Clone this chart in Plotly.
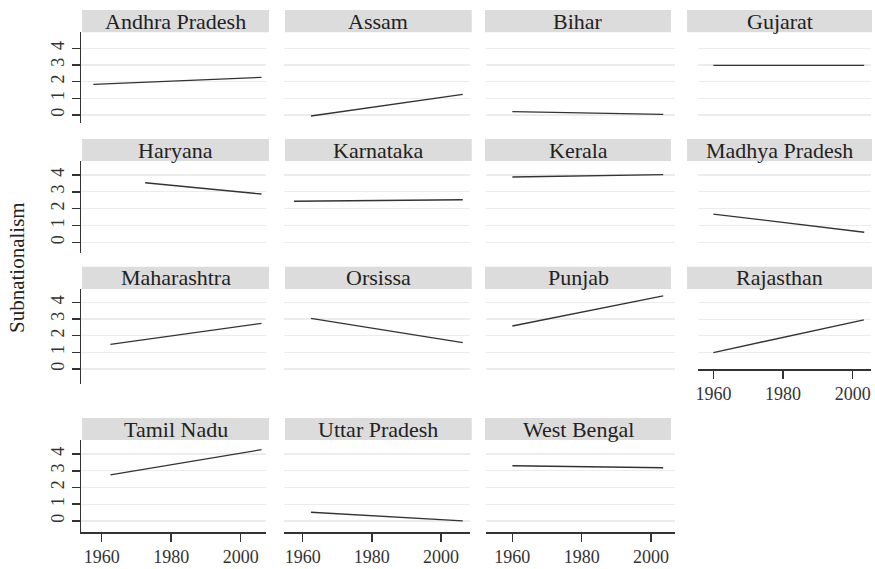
import plotly.graph_objects as go

# ---- data ----
states = ["Andhra Pradesh", "Assam", "Bihar", "Gujarat",
          "Haryana", "Karnataka", "Kerala", "Madhya Pradesh",
          "Maharashtra", "Orsissa", "Punjab", "Rajasthan",
          "Tamil Nadu", "Uttar Pradesh", "West Bengal"]
year_start = [1957.6, 1962.4, 1960.0, 1960.0,
              1972.5, 1957.5, 1960.0, 1960.0,
              1962.5, 1962.4, 1960.0, 1960.0,
              1962.5, 1962.4, 1960.0]
year_end = [2006.0, 2006.3, 2003.5, 2003.3,
            2006.0, 2006.3, 2003.5, 2003.3,
            2006.0, 2006.3, 2003.5, 2003.2,
            2006.0, 2006.3, 2003.5]
value_start = [1.84, -0.06, 0.20, 2.98,
               3.54, 2.44, 3.88, 1.68,
               1.48, 3.04, 2.58, 1.00,
               2.76, 0.52, 3.30]
value_end = [2.26, 1.24, 0.04, 2.98,
             2.87, 2.53, 4.02, 0.60,
             2.74, 1.58, 4.39, 2.96,
             4.26, 0.00, 3.18]
x_ticks = [1960, 1980, 2000]
y_ticks = [0, 1, 2, 3, 4]
y_title = "Subnationalism"

# ---- layout geometry (screen pixels) ----
W, H = 875, 569
FONT = "Liberation Serif"
INK = "#333333"

col_plot = [(81, 266), (284, 470), (486, 675), (697.7, 871)]
col_xrange = [(1954.04, 2007.3), (1954.6, 2008.4), (1952.4, 2006.9), (1955.5, 2005.25)]
col_head = [(82, 269), (285, 471.7), (485, 671), (687, 872)]

row_head = [(10, 32.3), (139, 161), (266.7, 289), (418, 440)]
row_plot = [(32.3, 123), (161, 253.3), (289, 384.3), (440, 532)]
row_yrange = [(-0.48, 4.96), (-0.65, 4.83), (-0.92, 4.80), (-0.66, 4.84)]

bottom_of_column = {"Rajasthan", "Tamil Nadu", "Uttar Pradesh", "West Bengal"}


def px(x):
    return x / W


def py(y):
    return 1 - y / H


fig = go.Figure()
shapes = []
annotations = []
layout_axes = {}

for i, st in enumerate(states):
    r, c = divmod(i, 4)
    n = i + 1
    xa = "x" if n == 1 else f"x{n}"
    ya = "y" if n == 1 else f"y{n}"
    xkey = "xaxis" if n == 1 else f"xaxis{n}"
    ykey = "yaxis" if n == 1 else f"yaxis{n}"

    fig.add_trace(go.Scatter(
        x=[year_start[i], year_end[i]], y=[value_start[i], value_end[i]],
        mode="lines", line=dict(color=INK, width=1.3),
        xaxis=xa, yaxis=ya, showlegend=False, hoverinfo="skip"))

    top, bot = row_plot[r]
    yr = row_yrange[r]
    if st == "Rajasthan":
        bot = 369.3
        yr = (0, 4.80)

    show_x = st in bottom_of_column
    show_y = c == 0

    layout_axes[xkey] = dict(
        domain=[px(col_plot[c][0]), px(col_plot[c][1])],
        range=list(col_xrange[c]), anchor=ya, automargin=False,
        showgrid=False, zeroline=False,
        showline=show_x, linecolor=INK, linewidth=1.5,
        ticks="outside" if show_x else "", ticklen=8, tickwidth=1.5, tickcolor=INK,
        tickvals=x_ticks, showticklabels=show_x,
        tickfont=dict(family=FONT, size=18, color=INK))
    layout_axes[ykey] = dict(
        domain=[py(bot), py(top)],
        range=list(yr), anchor=xa, automargin=False,
        showgrid=True, gridcolor="#ececec", gridwidth=1.2, zeroline=False,
        showline=show_y, linecolor=INK, linewidth=1.5,
        ticks="outside" if show_y else "", ticklen=8, tickwidth=1.5, tickcolor=INK,
        tickvals=y_ticks, showticklabels=show_y, tickangle=-90,
        tickfont=dict(family=FONT, size=18, color=INK))

    # strip header
    hx0, hx1 = col_head[c]
    hy0, hy1 = row_head[r]
    shapes.append(dict(type="rect", xref="paper", yref="paper",
                       x0=px(hx0), x1=px(hx1), y0=py(hy1), y1=py(hy0),
                       fillcolor="#dcdcdc", line=dict(width=0), layer="below"))
    annotations.append(dict(text=st, xref="paper", yref="paper",
                            x=px((hx0 + hx1) / 2), y=py((hy0 + hy1) / 2),
                            xanchor="center", yanchor="middle", showarrow=False,
                            font=dict(family=FONT, size=22, color="#222222")))

annotations.append(dict(text=y_title, xref="paper", yref="paper",
                        x=px(17), y=py(268), textangle=-90,
                        xanchor="center", yanchor="middle", showarrow=False,
                        font=dict(family=FONT, size=21, color="#222222")))

fig.update_layout(
    width=W, height=H,
    margin=dict(l=0, r=0, t=0, b=0),
    paper_bgcolor="white", plot_bgcolor="white",
    shapes=shapes, annotations=annotations,
    font=dict(family=FONT, color=INK),
    hovermode=False,
    **layout_axes)

fig.write_html(
    "out.html",
    config={"displayModeBar": False, "staticPlot": True},
    post_script="document.body.style.margin='0';document.body.style.overflow='hidden';")
